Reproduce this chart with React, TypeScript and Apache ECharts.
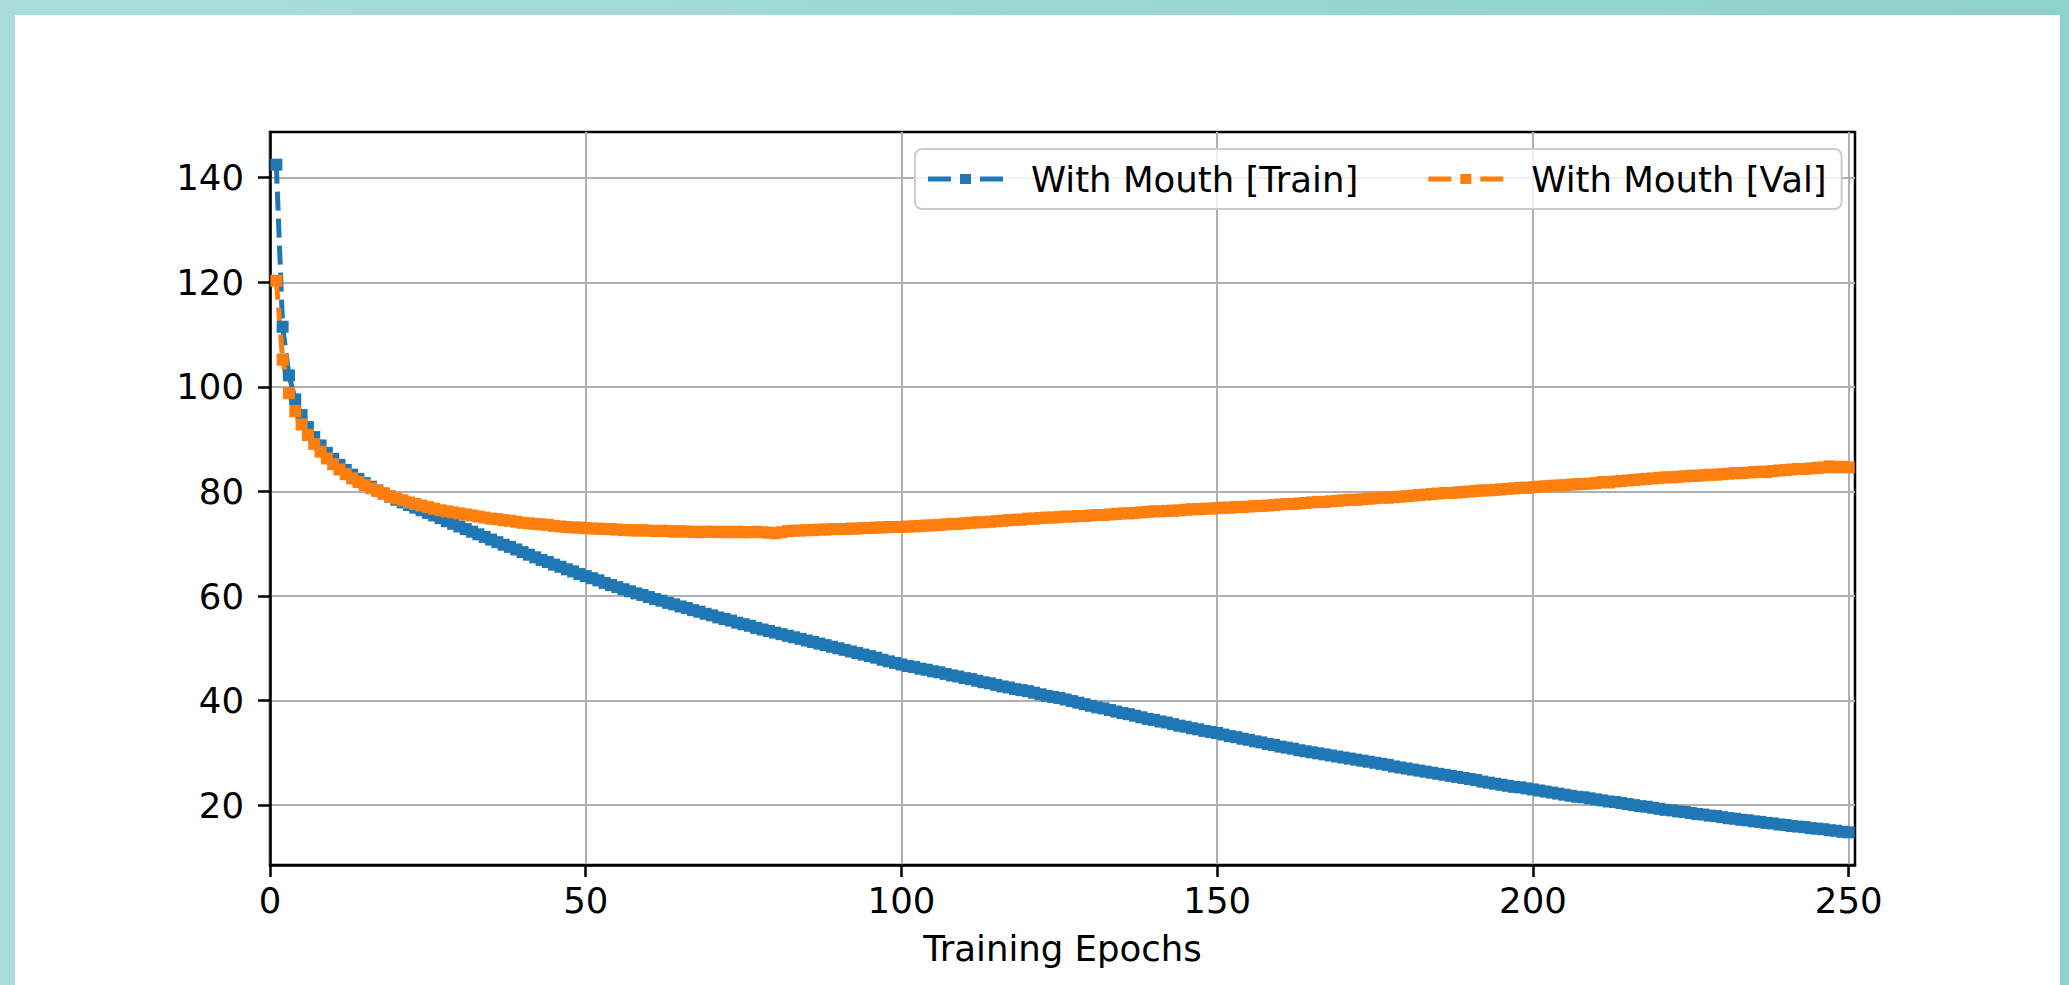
import React, { useEffect, useRef } from "react";
import * as echarts from "echarts";

// ---- Data ----
const seriesNames = ["With Mouth [Train]", "With Mouth [Val]"];
const xTicks = [0, 50, 100, 150, 200, 250];
const yTicks = [20, 40, 60, 80, 100, 120, 140];

const trainLoss = [
  142.5, 111.5, 102.2, 97.6, 94.6, 92.3, 90.4, 88.8, 87.4, 86.2,
  85.1, 84.1, 83.2, 82.4, 81.6, 80.9, 80.2, 79.6, 79.0, 78.4,
  77.9, 77.4, 76.9, 76.4, 75.9, 75.4, 74.9, 74.3, 73.8, 73.3,
  72.8, 72.3, 71.8, 71.3, 70.8, 70.3, 69.8, 69.4, 68.9, 68.4,
  67.9, 67.4, 66.9, 66.5, 66.0, 65.6, 65.1, 64.7, 64.2, 63.8,
  63.4, 63.0, 62.5, 62.1, 61.7, 61.3, 60.9, 60.5, 60.2, 59.8,
  59.4, 59.1, 58.7, 58.4, 58.0, 57.7, 57.3, 57.0, 56.6, 56.3,
  55.9, 55.6, 55.3, 54.9, 54.6, 54.3, 53.9, 53.6, 53.3, 53.0,
  52.7, 52.4, 52.1, 51.8, 51.5, 51.2, 50.9, 50.6, 50.3, 50.0,
  49.7, 49.4, 49.1, 48.8, 48.5, 48.2, 47.8, 47.5, 47.2, 46.9,
  46.6, 46.4, 46.1, 45.9, 45.6, 45.4, 45.1, 44.8, 44.6, 44.3,
  44.1, 43.8, 43.5, 43.3, 43.0, 42.7, 42.5, 42.2, 42.0, 41.8,
  41.5, 41.2, 40.9, 40.7, 40.5, 40.2, 39.9, 39.6, 39.3, 39.0,
  38.7, 38.5, 38.2, 37.9, 37.6, 37.4, 37.1, 36.8, 36.5, 36.3,
  36.0, 35.8, 35.5, 35.2, 35.0, 34.7, 34.5, 34.2, 34.0, 33.8,
  33.5, 33.2, 33.0, 32.7, 32.5, 32.2, 32.0, 31.7, 31.5, 31.2,
  31.0, 30.8, 30.5, 30.3, 30.1, 29.9, 29.7, 29.5, 29.3, 29.1,
  28.9, 28.7, 28.5, 28.3, 28.1, 27.9, 27.7, 27.4, 27.2, 27.0,
  26.8, 26.6, 26.4, 26.2, 26.0, 25.8, 25.6, 25.4, 25.2, 25.0,
  24.8, 24.5, 24.3, 24.1, 23.9, 23.7, 23.5, 23.4, 23.2, 23.0,
  22.8, 22.6, 22.4, 22.2, 22.0, 21.8, 21.6, 21.5, 21.3, 21.1,
  20.9, 20.7, 20.6, 20.4, 20.2, 20.0, 19.8, 19.7, 19.5, 19.3,
  19.1, 19.0, 18.8, 18.7, 18.5, 18.3, 18.2, 18.0, 17.9, 17.7,
  17.5, 17.4, 17.2, 17.1, 16.9, 16.8, 16.6, 16.5, 16.3, 16.2,
  16.0, 15.9, 15.8, 15.6, 15.5, 15.4, 15.2, 15.1, 14.9, 14.8,
];

const valLoss = [
  120.3, 105.2, 98.8, 95.3, 92.8, 90.8, 89.1, 87.6, 86.3, 85.2,
  84.2, 83.3, 82.5, 81.8, 81.2, 80.6, 80.1, 79.6, 79.1, 78.7,
  78.3, 77.9, 77.6, 77.3, 77.0, 76.7, 76.4, 76.2, 76.0, 75.8,
  75.6, 75.4, 75.2, 75.0, 74.8, 74.7, 74.5, 74.4, 74.2, 74.0,
  73.9, 73.8, 73.7, 73.6, 73.4, 73.3, 73.2, 73.1, 73.1, 73.0,
  72.9, 72.9, 72.8, 72.8, 72.7, 72.6, 72.6, 72.5, 72.6, 72.5,
  72.4, 72.5, 72.4, 72.3, 72.4, 72.3, 72.3, 72.2, 72.3, 72.3,
  72.2, 72.3, 72.2, 72.3, 72.2, 72.2, 72.3, 72.2, 72.1, 72.0,
  72.2, 72.4, 72.5, 72.5, 72.6, 72.6, 72.7, 72.7, 72.8, 72.8,
  72.8, 72.9, 72.9, 73.0, 73.0, 73.1, 73.1, 73.2, 73.2, 73.2,
  73.3, 73.3, 73.4, 73.5, 73.5, 73.6, 73.7, 73.8, 73.8, 73.9,
  74.0, 74.1, 74.1, 74.2, 74.3, 74.4, 74.5, 74.6, 74.6, 74.8,
  74.8, 74.9, 75.0, 75.0, 75.1, 75.2, 75.2, 75.3, 75.3, 75.4,
  75.5, 75.5, 75.6, 75.7, 75.8, 75.8, 75.9, 76.0, 76.1, 76.2,
  76.2, 76.3, 76.3, 76.4, 76.5, 76.6, 76.6, 76.7, 76.7, 76.8,
  76.9, 76.9, 77.0, 77.0, 77.1, 77.2, 77.2, 77.3, 77.4, 77.5,
  77.6, 77.6, 77.7, 77.8, 77.9, 78.0, 78.0, 78.1, 78.2, 78.3,
  78.4, 78.4, 78.5, 78.6, 78.7, 78.8, 78.8, 78.9, 79.0, 79.1,
  79.2, 79.3, 79.4, 79.5, 79.6, 79.7, 79.7, 79.8, 79.9, 80.0,
  80.1, 80.2, 80.2, 80.3, 80.4, 80.5, 80.6, 80.7, 80.7, 80.8,
  80.9, 81.0, 81.1, 81.1, 81.2, 81.3, 81.4, 81.4, 81.5, 81.6,
  81.8, 81.7, 81.9, 82.0, 82.1, 82.2, 82.3, 82.4, 82.5, 82.6,
  82.7, 82.7, 82.8, 82.9, 83.0, 83.0, 83.1, 83.2, 83.2, 83.3,
  83.4, 83.5, 83.5, 83.6, 83.7, 83.8, 83.7, 83.9, 84.0, 84.1,
  84.2, 84.3, 84.3, 84.4, 84.5, 84.6, 84.8, 84.6, 84.7, 84.6,
];

const epochs = trainLoss.map((_, i) => i + 1);

const FONT = "DejaVu Sans";
const FONT_SIZE = 35.5;
const BLUE = "#1f77b4";
const ORANGE = "#ff7f0e";
const LEGEND_ICON =
  "path://M0,2.5h23v5h-23z M32,0h11v10h-11z M52,2.5h23v5h-23z";

export default function App() {
  const ref = useRef<HTMLDivElement>(null);

  useEffect(() => {
    if (!ref.current) return;
    const chart = echarts.init(ref.current, null, { renderer: "svg" });

    const axisCommon = {
      axisLine: { show: true, lineStyle: { color: "#000", width: 2.5 } },
      axisTick: {
        show: true,
        inside: false,
        length: 12,
        lineStyle: { color: "#000", width: 2.5 },
      },
      splitLine: { show: true, lineStyle: { color: "#b0b0b0", width: 2 } },
    };

    const mkSeries = (name: string, values: number[], color: string) => ({
      name,
      type: "line",
      data: epochs.map((e, i) => [e, values[i]]),
      symbol: "rect",
      symbolSize: 12,
      showSymbol: true,
      showAllSymbol: true,
      itemStyle: { color, borderWidth: 0 },
      lineStyle: { color, width: 5, type: [19, 8] },
      emphasis: { disabled: true },
    });

    chart.setOption({
      animation: false,
      backgroundColor: "transparent",
      textStyle: { fontFamily: FONT },
      grid: {
        left: 270,
        top: 132,
        width: 1585,
        height: 733,
        show: true,
        borderColor: "#000",
        borderWidth: 2.5,
        backgroundColor: "transparent",
        containLabel: false,
      },
      xAxis: {
        type: "value",
        min: 0,
        max: 251,
        interval: 50,
        ...axisCommon,
        axisTick: { ...axisCommon.axisTick, customValues: xTicks },
        axisLabel: {
          customValues: xTicks,
          color: "#000",
          fontFamily: FONT,
          fontSize: FONT_SIZE,
          margin: 17,
        },
        name: "Training Epochs",
        nameLocation: "middle",
        nameGap: 65,
        nameTextStyle: { color: "#000", fontFamily: FONT, fontSize: FONT_SIZE },
      },
      yAxis: {
        type: "value",
        min: 8.55,
        max: 148.75,
        ...axisCommon,
        axisTick: { ...axisCommon.axisTick, customValues: yTicks },
        axisLabel: {
          customValues: yTicks,
          color: "#000",
          fontFamily: FONT,
          fontSize: FONT_SIZE,
          margin: 26,
        },
      },
      legend: {
        left: 915,
        top: 149,
        orient: "horizontal",
        padding: [9, 15, 9, 13],
        itemGap: 70,
        itemWidth: 75,
        itemHeight: 10,
        icon: LEGEND_ICON,
        backgroundColor: "rgba(255,255,255,0.8)",
        borderColor: "#cccccc",
        borderWidth: 2,
        borderRadius: 7,
        textStyle: {
          color: "#000",
          fontFamily: FONT,
          fontSize: FONT_SIZE,
          lineHeight: 42,
          padding: [0, 0, 0, 23],
        },
        data: seriesNames,
        selectedMode: false,
      },
      series: [
        mkSeries(seriesNames[0], trainLoss, BLUE),
        mkSeries(seriesNames[1], valLoss, ORANGE),
      ],
    });

    return () => chart.dispose();
  }, []);

  return (
    <div
      style={{
        position: "fixed",
        left: 0,
        top: 0,
        width: 2069,
        height: 985,
        background: "linear-gradient(90deg, #abdedb 0%, #8dd2cb 100%)",
        overflow: "hidden",
      }}
    >
      <div
        style={{
          position: "absolute",
          left: 15,
          top: 15,
          width: 2045,
          height: 970,
          background: "#ffffff",
        }}
      />
      <div
        ref={ref}
        style={{ position: "absolute", left: 0, top: 0, width: 2069, height: 985 }}
      />
    </div>
  );
}
